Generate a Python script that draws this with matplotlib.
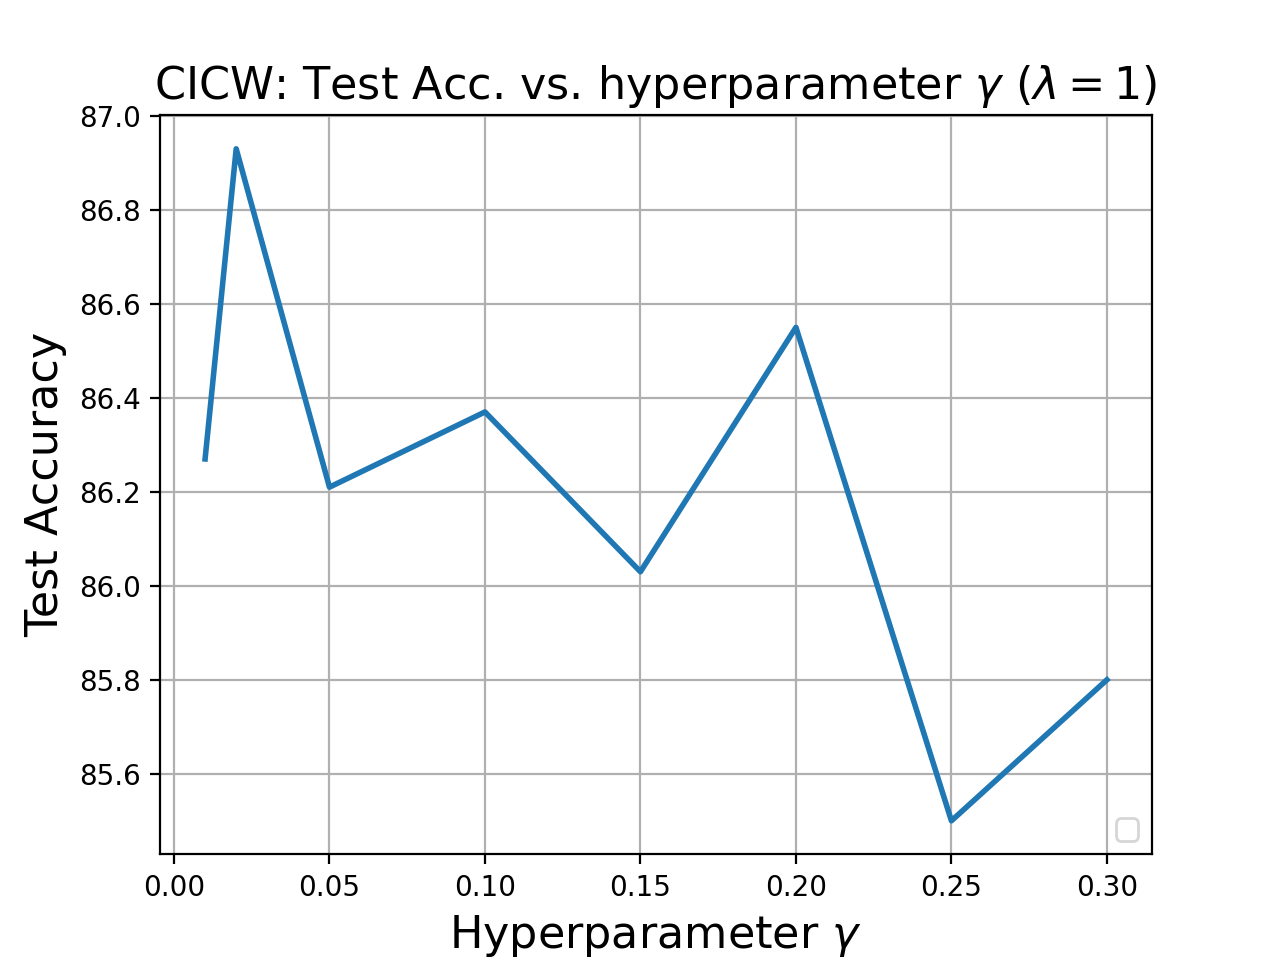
import matplotlib
matplotlib.use("Agg")
import matplotlib.pyplot as plt

gamma = [0.01, 0.02, 0.05, 0.10, 0.15, 0.20, 0.25, 0.30]
acc = [86.27, 86.93, 86.21, 86.37, 86.03, 86.55, 85.50, 85.80]

fig, ax = plt.subplots(figsize=(6.4, 4.8), dpi=200)
ax.plot(gamma, acc, linewidth=2, color='#1f77b4')
ax.set_title(r'CICW: Test Acc. vs. hyperparameter $\gamma$ ($\lambda=1$)', fontsize=16)
ax.set_xlabel(r'Hyperparameter $\gamma$', fontsize=16)
ax.set_ylabel('Test Accuracy', fontsize=16)
ax.grid(True)
ax.legend(loc='lower right')
fig.savefig('out.png')
